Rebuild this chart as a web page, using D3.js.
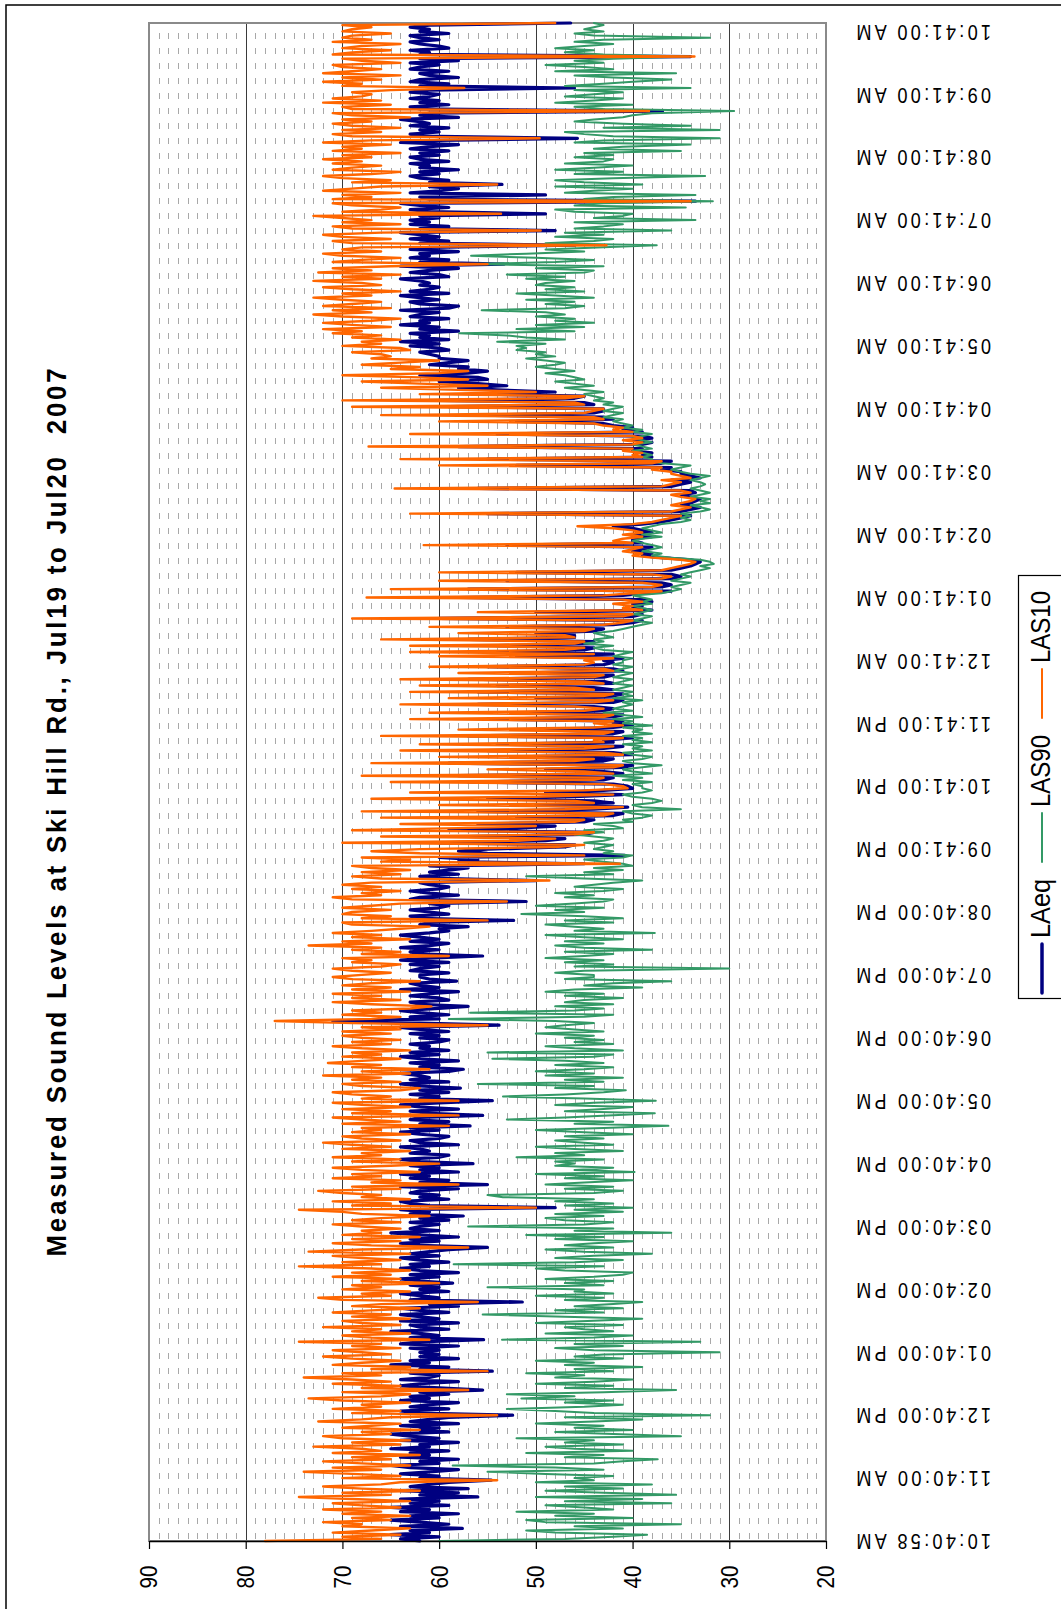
<!DOCTYPE html>
<html>
<head>
<meta charset="utf-8">
<script src="https://cdn.jsdelivr.net/npm/d3@7"></script>
<style>
  html, body { margin: 0; padding: 0; background: #fff; }
  svg { display: block; }
  text { font-family: "Liberation Sans", Arial, sans-serif; fill: #000; }
</style>
</head>
<body>
<svg id="chart" width="1061" height="1609"></svg>
<script>
// ---- data: 2-minute samples from 10:40:58 AM Jul 19, one row per hour ----
const titleText = "Measured Sound Levels at Ski Hill Rd., Jul19 to Jul20  2007";

const timeLabels = [
  "10:40:58 AM", "11:40:00 AM", "12:40:00 PM", "01:40:00 PM", "02:40:00 PM",
  "03:40:00 PM", "04:40:00 PM", "05:40:00 PM", "06:40:00 PM", "07:40:00 PM",
  "08:40:00 PM", "09:41:00 PM", "10:41:00 PM", "11:41:00 PM", "12:41:00 AM",
  "01:41:00 AM", "02:41:00 AM", "03:41:00 AM", "04:41:00 AM", "05:41:00 AM",
  "06:41:00 AM", "07:41:00 AM", "08:41:00 AM", "09:41:00 AM", "10:41:00 AM"
];
const samplesPerLabel = 30;

const valueTicks = [90, 80, 70, 60, 50, 40, 30, 20];

const seriesNames = ["LAeq", "LAS90", "LAS10"];
const seriesColors = ["#000080", "#339966", "#FF6600"];

const laeq = [
  62, 64, 60, 65, 61, 63, 57.6, 64, 59, 62, 65, 60, 63, 58, 64, 61, 65, 59, 63, 60, 64, 56, 62, 58, 64, 57, 63, 61, 59, 54.6,
  62, 60, 64, 61, 58, 63, 65, 60, 62, 58, 64, 61, 63, 59, 65, 61, 62, 58, 64, 60, 63, 65, 59, 62, 60, 64, 58, 63, 61, 59,
  52.4, 62, 64, 59, 63, 61, 58, 64, 61, 63, 59, 62, 55.5, 60, 64, 62, 58, 64, 61, 60, 63, 54.5, 62, 59, 65, 61, 63, 58, 62, 60,
  62, 60, 63, 58, 64, 62, 55.4, 63, 60, 62, 65, 59, 62, 63, 58, 64, 60, 62, 64, 59, 62, 64, 58, 61, 51.4, 63, 60, 62, 64, 59,
  62, 60, 63, 58.6, 62, 64, 60, 63, 58, 62, 64, 61, 63, 59, 62, 64, 60, 63, 61, 59, 55, 62, 64, 60, 63, 58, 62, 65, 60, 63,
  62, 60, 63, 59, 62, 57.5, 63, 61, 64, 48, 61, 63, 64, 59, 62, 60, 63, 62, 58, 64, 55, 62, 59, 63, 61, 64, 58, 62, 60, 63,
  56.5, 62, 64, 60, 59, 63, 61, 62, 64, 58, 62, 63, 60, 59, 62, 64, 60, 63, 56.8, 62, 59, 63, 62, 55.5, 61, 63, 58, 62, 64, 60,
  54.5, 62, 60, 63, 59, 62, 57.8, 62, 64, 59, 63, 61, 62, 64, 59, 57.5, 62, 60, 63, 58, 62, 64, 60, 63, 59, 62, 61, 63, 60, 59,
  62, 60, 63, 59, 62, 64, 53.8, 62, 71, 60, 63, 59, 62, 64, 60, 57, 62, 63, 59, 60, 63, 61, 58, 64, 60, 62, 63, 58.2, 61, 62,
  62, 59, 63, 62, 60, 63, 59, 64, 61, 55.5, 62, 63, 60, 64, 61, 59, 63, 60, 62, 64, 61, 59, 60, 57, 62, 61, 52.3, 62, 63, 59,
  61, 63, 60, 59, 61, 51, 63, 62, 58, 61, 63, 60, 59, 61, 62, 50, 60, 62, 58, 61, 59, 57, 61, 45, 58, 56, 60, 40.8, 55, 58,
  55, 47, 46, 60, 49, 47, 57, 45, 44, 59, 52, 48, 56, 45, 44, 52, 42, 41, 56, 44, 40.5, 50, 42, 44, 55, 46, 41, 49, 43, 40,
  40.5, 42, 57, 43, 42, 58, 41, 43, 49, 41, 40, 59, 43, 42, 52, 40, 42, 55, 43, 41, 54, 42, 43, 40, 57, 42, 41, 50, 42, 40,
  42, 41, 55, 42, 41, 52, 43, 42, 44, 56, 42, 41, 50, 42, 41, 56, 42, 44, 54, 42, 43, 57, 43, 42, 51, 41, 42, 55, 43, 42,
  43, 41, 52, 42, 55, 45, 44, 54, 44, 44, 57, 46, 46, 50, 44, 43, 53, 42, 40, 39, 60, 40, 39, 50, 38, 40, 39, 40, 38, 39,
  58, 41, 39, 36, 57, 37, 36, 37, 53, 36, 35, 36, 52, 36, 35, 34, 33.5, 33, 34, 37, 39, 38, 40, 39, 38, 53, 39, 40, 40, 38,
  40, 38, 39, 40, 42, 39, 37, 36, 35, 34, 55, 35, 34, 33, 35, 34, 33.5, 33, 34, 35, 33.5, 34, 56, 36, 35, 34, 36, 33, 34, 35,
  35, 37, 36, 52, 37, 36, 55, 38, 39, 38, 40, 39, 58, 39, 38, 40, 38, 39, 54, 39, 41, 40, 42, 43, 52, 42, 43, 56, 44, 43,
  43, 59, 44, 45, 60, 46, 45, 55, 48, 54, 58, 53, 56, 60, 55, 56, 62, 57, 55, 58, 57, 61, 59, 57, 60, 60, 61, 62, 59, 60,
  63, 60, 64, 59, 62, 61, 63, 58, 62, 60, 64, 61, 62, 59, 63, 62, 60, 64, 59, 58, 62, 63, 60, 62, 64, 59, 63, 61, 60, 62,
  61, 62, 64, 59, 60, 63, 61, 58, 64, 53.3, 62, 59, 63, 61, 62, 58, 63, 61, 46, 62, 59, 63, 60, 62, 64, 48, 62, 59, 63, 61,
  63, 60, 62, 49, 61, 63, 59, 62, 64, 33.5, 61, 62, 49, 63, 60, 58, 61, 53.5, 61, 59, 62, 63, 60, 62, 58, 62, 61, 63, 59, 62,
  63, 60, 62, 59, 63, 61, 58, 64, 60, 45.7, 62, 63, 60, 62, 59, 63, 61, 62, 64, 58, 62, 61, 36.9, 62, 63, 59, 62, 60, 63, 61,
  60, 63, 61, 46, 62, 59, 63, 62, 58, 61, 62, 59, 63, 62, 60, 63, 58, 62, 34, 62, 61, 63, 59, 60, 62, 63, 60, 62, 63, 59,
  62, 61, 63, 61, 46.4
];

const las90 = [
  60, 47, 42, 38.5, 48, 51, 41, 46, 35, 49, 51, 40, 48, 44, 52, 42, 45, 49, 36, 47, 39, 50, 35.5, 43, 49, 41, 47, 38, 50, 44,
  46, 42, 49, 55, 43, 48, 58.6, 44, 41, 37.4, 47, 43, 51, 40, 46, 49, 41, 47, 44, 52, 35, 42, 48, 40, 46, 43, 50, 44, 39, 47,
  32, 44, 48, 53, 45, 41, 47, 42, 51.5, 46, 53, 43, 35.5, 47, 42, 50, 44, 40, 48, 45, 51, 42, 46, 39, 47, 44, 50, 41, 46, 43,
  31, 44, 48, 41, 46, 33, 53.5, 44, 40, 49, 42, 45, 47, 41, 50, 44, 39, 47, 55.5, 43, 48, 41, 46, 42, 39, 47, 43, 50, 42, 46,
  45, 55, 43, 47, 42, 49, 44, 41, 40, 47, 50, 43, 58.5, 46, 41, 48, 44, 38, 45, 49, 42, 47, 44, 40, 48, 43, 51, 36, 46, 42,
  57, 45, 42, 47, 49, 43, 48, 41, 46, 40, 47, 42, 48, 44, 53.4, 55, 44, 41, 47, 42, 49, 45, 40, 47, 43, 50, 39.8, 46, 42, 48,
  46, 48, 43, 52, 45, 48, 41, 46, 50, 42, 45, 48, 43, 47, 40, 45, 50, 43, 36.3, 46, 42, 53, 47, 42, 37.7, 47, 43, 40, 48, 44,
  37.6, 45, 53.4, 47, 43, 40.7, 48, 44, 56, 43, 47, 41, 49, 44, 50, 45, 42, 48, 43, 47, 54.5, 44, 42, 55, 41, 46, 49, 42, 46, 43,
  47, 44, 50, 43, 46, 49, 47, 44, 48, 59, 45, 42, 56.8, 46, 43, 48, 42, 47, 45, 41, 47, 43, 49, 46, 39, 45, 42, 36, 47, 44,
  44, 48, 45, 30, 46, 42, 47, 43, 49, 45, 42, 47, 38, 45, 48, 43, 47, 41, 45, 49, 37.7, 46, 43, 46, 49, 42, 47, 41, 45, 51.5,
  45, 48, 43, 50, 46, 43, 42, 47, 44, 48, 43, 41, 46, 44, 42, 39, 45, 51, 42, 45, 41, 44, 40, 41, 43, 45, 41, 40, 43, 42,
  44, 43, 42, 45, 43, 42, 44, 46, 43, 45, 41, 42, 44, 40, 41, 39, 38, 40, 41, 35, 39, 40, 38, 37, 38, 40, 41, 39, 38, 39,
  39, 40, 38, 41, 39, 42, 38, 40, 41, 39, 37, 40, 41, 39, 38, 40, 41, 38, 40, 39, 41, 38, 40, 39, 41, 38, 40, 39, 41, 38,
  41, 40, 42, 39, 41, 43, 40, 42, 41, 40, 41, 39, 42, 40, 41, 40, 42, 41, 40, 42, 41, 40, 42, 41, 40, 42, 41, 40, 42, 41,
  41, 40, 42, 41, 40, 43, 44, 42, 45, 43, 44, 42, 43, 44, 42, 41, 40, 39, 38, 40, 39, 38, 40, 39, 38, 39, 40, 38, 39, 38,
  39, 40, 37, 36, 35, 36, 35, 34, 36, 35, 34, 35, 34, 33, 32, 33, 31.6, 32, 33, 36, 38, 37, 39, 38, 37, 38, 39, 40, 39, 37,
  39, 37, 38, 39, 38, 37, 35, 34, 35, 34, 35, 33, 32, 33, 34, 32, 33, 32, 34, 33, 32, 33, 34, 33, 32.5, 33, 34, 33, 32, 34,
  35, 36, 35, 34, 37, 38, 38, 39, 38, 39, 40, 38, 39, 40, 38, 39, 40, 39, 38, 40, 39, 41, 40, 41, 42, 41, 43, 42, 41, 43,
  42, 41, 43, 42, 44, 43, 44, 45, 43, 45, 47, 44, 46, 48, 45, 46, 47, 49, 46, 48, 50, 48, 47, 49, 51, 48, 50, 49, 52, 51,
  52, 49, 54, 47, 51, 53, 57.9, 46, 52, 45, 50, 44, 48, 46, 50, 47, 49, 55.6, 47, 45, 49, 46, 51, 44, 48, 52, 45, 49, 46, 50,
  49, 46, 51, 47, 53, 45, 44, 50, 43, 57, 48, 44, 50, 56.7, 51, 45, 49, 43, 37.5, 49, 44, 42, 48, 43, 47, 36, 46, 43, 41, 46,
  33.5, 44, 41, 40, 46, 48, 34.5, 46, 43, 31.7, 45, 42, 33.5, 47, 44, 40, 48, 39, 45, 48, 42, 32.5, 46, 41, 48, 44, 40, 47, 43, 42,
  46, 42, 45, 35, 44, 41, 34, 46, 43, 31, 42, 45, 47, 31, 43, 34, 41, 46, 44, 41, 40, 38, 29.5, 43, 46, 40, 48, 44, 41, 47,
  44, 41, 46, 34, 47, 43, 40, 36, 42, 46, 35.5, 48, 42, 45, 49, 43, 46, 42, 34.2, 43, 47, 44, 48, 45, 42, 46, 43, 32, 44, 46,
  43, 45, 44, 43, 44
];

const las10 = [
  78, 66, 70, 64, 71, 67, 63, 70, 68, 72, 65, 69, 63, 70, 66, 72, 64, 68, 71, 63, 69, 74.5, 65, 70, 62, 68, 72, 66, 64, 54,
  70, 64, 69, 74, 66, 71, 63, 68, 72, 65, 69, 62, 71, 66, 68, 73, 64, 69, 63, 70, 72, 65, 68, 62, 70, 67, 64, 72.5, 68, 65,
  54, 69, 64, 71, 66, 68, 63, 70, 73.5, 66, 63, 70, 57, 68, 64, 71, 65, 69, 74, 66, 70, 55, 67, 63, 71, 68, 64, 69, 72, 65,
  68, 71, 64, 69, 66, 74.5, 61, 67, 70, 63, 69, 66, 72, 64, 68, 70, 63, 69, 65, 71, 67, 62, 69, 66, 56, 70, 72.5, 65, 68, 63,
  70, 66, 69, 60, 68, 64, 71, 65, 69, 63, 67, 74.5, 66, 70, 64, 68, 71, 63, 73.5, 68, 57, 67, 71, 64, 69, 62, 70, 66, 68, 64,
  68, 71, 64, 69, 66, 61, 68, 70, 74.5, 50, 69, 65, 71, 63, 68, 66, 70, 72.5, 64, 69, 58, 67, 64, 71, 66, 69, 62, 68, 71, 65,
  60, 69, 64, 71, 66, 68, 63, 70, 65, 69, 72, 64, 68, 70, 63, 69, 66, 68, 59, 70, 64, 68, 71, 58, 69, 65, 70, 63, 68, 71,
  58, 68, 65, 69, 71, 64, 62, 68, 70, 64, 69, 66, 72, 63, 68, 61, 69, 66, 71.5, 68, 64, 70, 66, 69, 63, 68, 71, 65, 69, 64,
  68, 70, 65, 70, 64, 68, 55, 69, 77, 67, 64, 70, 66, 69, 63, 60.8, 67, 71, 64, 69, 66, 71, 63, 69, 65, 70, 67, 62, 69, 71,
  68, 65, 69, 71, 66, 64, 69, 67, 70, 59, 68, 64, 69, 66, 73.5, 67, 70, 63, 69, 66, 71, 67, 64, 61, 69, 70, 55, 68, 65, 70,
  69, 65, 70, 67, 64, 53, 69, 71, 66, 68, 64, 69, 66, 70, 67, 48.6, 66, 69, 64, 68, 63, 67, 69, 41.3, 66, 63, 68, 45, 62, 67,
  62, 48, 45, 70, 52, 48, 66, 46, 44, 69, 58, 50, 64, 46, 45, 66, 43, 42, 68, 47, 41, 60, 44, 46, 67, 50, 42, 63, 45, 40.5,
  41, 43, 65, 44, 43, 68, 42, 45, 55, 42, 41, 67, 46, 44, 60, 41, 43, 64, 45, 42, 62, 43, 44, 41, 66, 43, 42, 58, 44, 41,
  44, 42, 63, 43, 42, 61, 45, 43, 46, 64, 44, 42, 59, 43, 42, 63, 44, 46, 62, 43, 45, 64, 44, 43, 58, 42, 43, 61, 45, 44,
  45, 42, 60, 44, 63, 47, 45, 63, 46, 45, 66, 46, 47, 58, 45, 44, 61, 43, 41, 40, 69, 41, 40, 56, 39, 41, 40, 42, 39, 41,
  67.5, 43, 40, 37, 65, 38, 37, 39, 60, 37, 36, 38, 60, 37, 36, 35, 34, 33.5, 35, 38, 40, 39, 41, 40, 39, 61.6, 40, 42, 41, 39,
  41, 39, 40, 42, 45.7, 40, 38, 37, 36, 35, 63, 36, 35, 34, 36, 35, 34, 33.5, 35, 36, 34, 35, 64.6, 37, 36, 35, 37, 34, 35, 36,
  36, 38, 37, 60, 38, 37, 64, 39, 40, 39, 41, 40, 67.3, 40, 39, 41, 39, 40, 63, 40, 42, 41, 43, 44, 60, 43, 44, 66, 45, 44,
  43, 69, 45, 46, 70, 47, 45, 62, 50, 58, 66, 55, 62, 68, 57, 62, 70, 60, 57, 65, 62, 68, 64, 60, 67, 65, 66, 69, 63, 64,
  70, 66, 68, 64, 69, 66, 71, 68, 72, 65, 69, 72, 67, 64, 70, 73, 67, 71, 65, 72, 69, 66, 70, 73, 67, 70, 64, 69, 72, 66,
  68, 73, 66, 70, 64, 72.5, 67, 71, 65, 55, 71, 68, 64, 70, 72, 66, 70, 68, 42.7, 69, 71, 65, 70, 72, 66, 49.5, 69, 71, 64, 70,
  67, 70, 73, 53.6, 70, 66, 64, 69, 71, 34, 71, 67, 70, 64, 72, 69, 66, 54, 69, 65, 70, 72, 67, 64, 71, 69, 66, 71, 68, 72,
  67, 70, 64, 71, 68, 70, 65, 72, 67, 49.6, 69, 71, 66, 70, 64, 69, 71, 67, 70, 63, 69, 71, 38.3, 69, 70, 65, 72, 66, 71, 68,
  67, 69, 65, 57.4, 70, 68, 72, 66, 70, 64, 72, 69, 66, 70, 71, 64, 68, 70, 33.6, 71, 69, 65, 70, 68, 64, 71, 67, 70, 69, 65,
  70, 69, 67, 70, 48
];

const seriesData = [laeq, las90, las10];

// ---- layout ----
const W = 1061, H = 1609;
const plot = { left: 149, right: 826, top: 23, bottom: 1541 };

const svg = d3.select("#chart");

// value axis runs horizontally (90 at left, 20 at right); time runs bottom -> top
const xVal = d3.scaleLinear().domain([90, 20]).range([plot.left, plot.right]);
const yIdx = d3.scaleLinear().domain([0, laeq.length - 1]).range([plot.bottom, plot.top]);

// outer frame
svg.append("rect")
  .attr("x", 6).attr("y", 5)
  .attr("width", W + 20).attr("height", H + 20)
  .attr("fill", "none").attr("stroke", "#000").attr("stroke-width", 1.5);

// minor gridlines every 1 dB, dashed, drawn bottom -> top
const minorVals = d3.range(21, 90).filter(v => v % 10 !== 0);
svg.append("g").selectAll("line").data(minorVals).join("line")
  .attr("x1", d => Math.round(xVal(d)) + 0.5).attr("x2", d => Math.round(xVal(d)) + 0.5)
  .attr("y1", plot.bottom).attr("y2", plot.top)
  .attr("stroke", "#a8a8a8").attr("stroke-width", 1)
  .attr("stroke-dasharray", "6,9").attr("stroke-dashoffset", 13);

// major gridlines every 10 dB
svg.append("g").selectAll("line").data([80, 70, 60, 50, 40, 30]).join("line")
  .attr("x1", d => Math.round(xVal(d)) + 0.5).attr("x2", d => Math.round(xVal(d)) + 0.5)
  .attr("y1", plot.top).attr("y2", plot.bottom)
  .attr("stroke", "#3a3a3a").attr("stroke-width", 1);

// plot area border
svg.append("rect")
  .attr("x", plot.left).attr("y", plot.top)
  .attr("width", plot.right - plot.left).attr("height", plot.bottom - plot.top)
  .attr("fill", "none").attr("stroke", "#8a8a8a").attr("stroke-width", 2);

// data lines
const line = d3.line()
  .x(d => xVal(d))
  .y((d, i) => yIdx(i))
  .curve(d3.curveLinear);
const widths = [3.2, 2, 2.4];
seriesData.forEach((arr, k) => {
  svg.append("path")
    .datum(arr)
    .attr("d", line)
    .attr("fill", "none")
    .attr("stroke", seriesColors[k])
    .attr("stroke-width", widths[k])
    .attr("stroke-linejoin", "round")
    .attr("stroke-linecap", "round");
});

// value axis (bottom) with outward ticks
const axis = d3.axisBottom(xVal).tickValues(valueTicks).tickSize(8).tickSizeOuter(0).tickFormat("");
const gAxis = svg.append("g").attr("transform", `translate(0,${plot.bottom})`).call(axis);
gAxis.select(".domain").attr("stroke", "#000").attr("stroke-width", 1.5);
gAxis.selectAll(".tick line").attr("stroke", "#000").attr("stroke-width", 1.2);

// value labels, read bottom to top
svg.append("g").selectAll("text").data(valueTicks).join("text")
  .attr("transform", d => `translate(${xVal(d)},1577) rotate(-90)`)
  .attr("text-anchor", "middle")
  .attr("dy", "0.35em")
  .attr("font-size", 24)
  .attr("textLength", 23)
  .attr("lengthAdjust", "spacingAndGlyphs")
  .text(d => d);

// time labels, turned upside down beside the right edge
svg.append("g").selectAll("text").data(timeLabels).join("text")
  .attr("transform", (d, k) => `translate(853,${yIdx(k * samplesPerLabel) + 1}) rotate(180)`)
  .attr("text-anchor", "end")
  .attr("dy", "0.35em")
  .attr("font-size", 22)
  .style("letter-spacing", "4px")
  .attr("textLength", 138)
  .attr("lengthAdjust", "spacingAndGlyphs")
  .text(d => d);

// title
svg.append("text")
  .attr("transform", "translate(56,811) rotate(-90)")
  .attr("text-anchor", "middle")
  .attr("dy", "0.35em")
  .attr("font-size", 28)
  .attr("font-weight", "bold")
  .style("letter-spacing", "3px")
  .style("white-space", "pre")
  .attr("textLength", 891)
  .attr("lengthAdjust", "spacingAndGlyphs")
  .text(titleText);

// legend
const legend = svg.append("g");
legend.append("rect")
  .attr("x", 1018.5).attr("y", 575.5)
  .attr("width", 80).attr("height", 423)
  .attr("fill", "#fff").attr("stroke", "#000").attr("stroke-width", 1.2);
const legendTextLen = [59, 72, 72];
const legendLineW = [3.5, 2, 2];
let cur = 993;
seriesNames.forEach((name, k) => {
  legend.append("line")
    .attr("x1", 1042).attr("x2", 1042)
    .attr("y1", cur).attr("y2", cur - 49)
    .attr("stroke", seriesColors[k]).attr("stroke-width", legendLineW[k])
    .attr("stroke-linecap", "round");
  cur -= 49 + 6;
  legend.append("text")
    .attr("transform", `translate(1041,${cur}) rotate(-90)`)
    .attr("text-anchor", "start")
    .attr("dy", "0.35em")
    .attr("font-size", 27)
    .attr("textLength", legendTextLen[k])
    .attr("lengthAdjust", "spacingAndGlyphs")
    .text(name);
  cur -= legendTextLen[k] + 17;
});
</script>
</body>
</html>
